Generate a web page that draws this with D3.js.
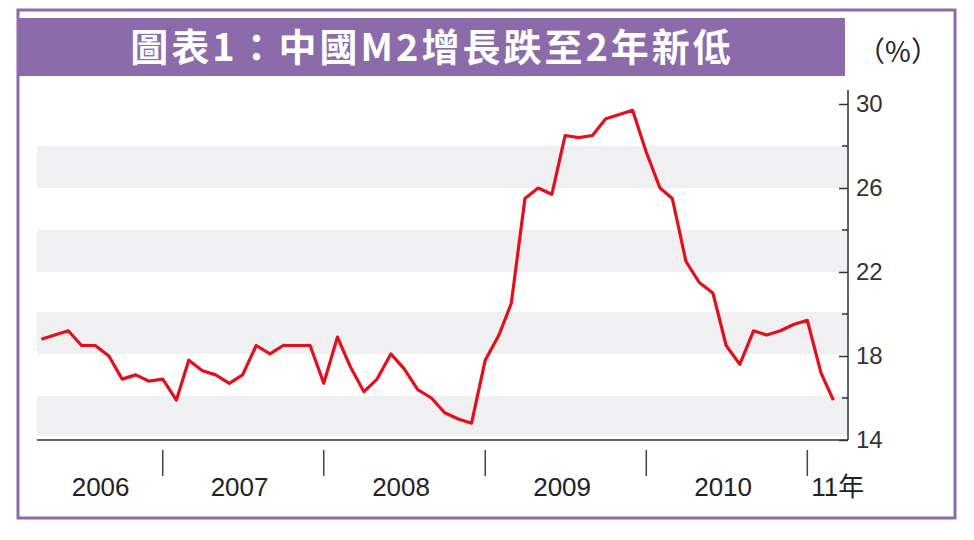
<!DOCTYPE html><html><head><meta charset="utf-8">
<script src="https://cdn.jsdelivr.net/npm/d3@7"></script>
<style>body{margin:0;background:#fff}</style></head><body>
<svg id="c" width="974" height="540"></svg>
<script>
const startMonth = "2006-04";
const values = [18.8,19.0,19.2,18.5,18.5,18.0,16.9,17.1,16.8,16.9,
15.9,17.8,17.3,17.1,16.7,17.1,18.5,18.1,18.5,18.5,18.5,16.7,
18.9,17.5,16.3,16.9,18.1,17.4,16.4,16.0,15.3,15.0,14.8,17.8,
19.0,20.5,25.5,26.0,25.7,28.5,28.4,28.5,29.3,29.5,29.7,27.7,
26.0,25.5,22.5,21.5,21.0,18.5,17.6,19.2,19.0,19.2,19.5,19.7,
17.2,15.9];
const yTicks = [14,18,22,26,30];
const bands = [[14.2,16.1],[18.1,20.1],[22.0,24.0],[26.0,28.0]];
const yearLabels = ["2006","2007","2008","2009","2010","11年"];
const title = "圖表1：中國M2增長跌至2年新低";

const svg = d3.select("#c");
const purple = "#8c6bab";
svg.append("rect").attr("x",18).attr("y",10).attr("width",937).attr("height",508).attr("fill","none").attr("stroke",purple).attr("stroke-width",3);
svg.append("rect").attr("x",19).attr("y",18).attr("width",826).attr("height",58).attr("fill",purple);
svg.append("text").attr("x",432).attr("y",61).attr("text-anchor","middle").attr("fill","#fff").attr("letter-spacing",3)
  .attr("font-family","Noto Sans CJK TC").attr("font-weight","bold").attr("font-size",38).text(title);
svg.append("text").attr("x",898).attr("y",62).attr("text-anchor","middle").attr("fill","#222")
  .attr("font-family","Noto Sans CJK TC").attr("font-size",28).text("（%）");

const parse = d3.timeParse("%Y-%m");
const t0 = parse(startMonth);
const data = values.map((v,i)=>({d:d3.timeMonth.offset(t0,i),v}));
const x = d3.scaleTime().domain([parse("2005-12"),parse("2011-02")]).range([-12,821]);
const y = d3.scaleLinear().domain([14,30]).range([440,104]);
const L=37,R=848;
bands.forEach(b=>svg.append("rect").attr("x",L).attr("width",R-L).attr("y",y(b[1])).attr("height",y(b[0])-y(b[1])).attr("fill","#f0f0f3"));

const ya = svg.append("g").attr("transform",`translate(${R},0)`).call(d3.axisRight(y).tickValues(yTicks).tickSize(9).tickFormat(d3.format("d")));
ya.select(".domain").attr("d",`M0,90V${y(14)}`).attr("stroke","#333").attr("stroke-width",1.5);
ya.selectAll("text").attr("font-family","Liberation Sans, Arial").attr("font-size",24).attr("fill","#333").attr("x",8).attr("dx",0);
ya.selectAll("line").attr("x1",-9).attr("x2",0).attr("stroke","#333").attr("stroke-width",1.5);
svg.append("g").selectAll("line").data([16,20,24,28]).join("line").attr("x1",R-6).attr("x2",R).attr("y1",d=>y(d)).attr("y2",d=>y(d)).attr("stroke","#333").attr("stroke-width",1.5);

svg.append("line").attr("x1",L).attr("x2",R).attr("y1",y(14)).attr("y2",y(14)).attr("stroke","#333").attr("stroke-width",1.5);
const years=[2007,2008,2009,2010,2011];
svg.append("g").selectAll("line").data(years).join("line")
  .attr("x1",d=>x(new Date(d,0,1))).attr("x2",d=>x(new Date(d,0,1))).attr("y1",450).attr("y2",476).attr("stroke","#444").attr("stroke-width",1.5);
const labelDates=[new Date(2006,7,20),new Date(2007,6,1),new Date(2008,6,1),new Date(2009,6,1),new Date(2010,6,1),new Date(2011,0,1)];
svg.append("g").selectAll("text").data(yearLabels).join("text")
  .attr("x",(d,i)=> x(labelDates[i]) + (i<5?-3:4))
  .attr("y",496).attr("text-anchor",(d,i)=>i<5?"middle":"start")
  .attr("font-family","Liberation Sans, Noto Sans CJK TC").attr("font-size",26).attr("fill","#222").text(d=>d);

svg.append("path").datum(data).attr("fill","none").attr("stroke","#e3101c").attr("stroke-width",3.2).attr("stroke-linejoin","round")
  .attr("d",d3.line().x(d=>x(d.d)).y(d=>y(d.v)));
</script></body></html>
